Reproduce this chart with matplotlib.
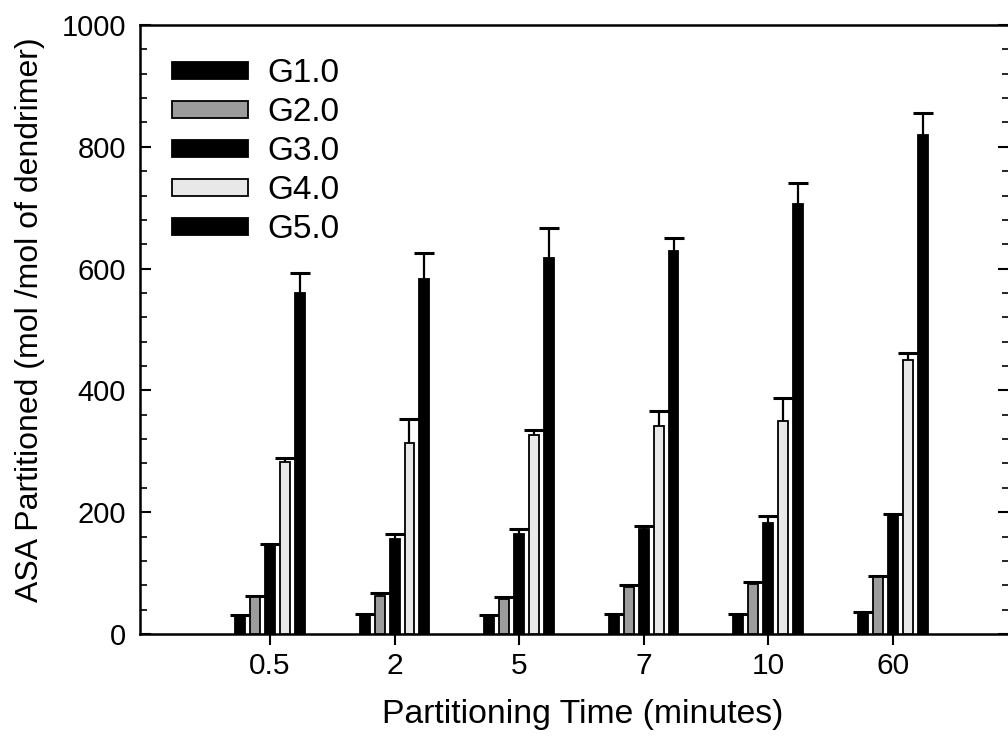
import matplotlib
matplotlib.use("Agg")
import matplotlib.pyplot as plt
import numpy as np
from matplotlib.ticker import MultipleLocator

plt.rcParams['font.family'] = ['Liberation Sans', 'DejaVu Sans']

categories = ["0.5", "2", "5", "7", "10", "60"]
series_names = ["G1.0", "G2.0", "G3.0", "G4.0", "G5.0"]
g1 = [29, 30, 30, 31, 31, 34]
g1_err = [3, 3, 2, 2, 2, 2]
g2 = [60, 62, 58, 77, 82, 93]
g2_err = [3, 5, 3, 3, 4, 3]
g3 = [146, 156, 165, 172, 182, 195]
g3_err = [2, 9, 8, 6, 12, 2]
g4 = [283, 313, 326, 342, 350, 450]
g4_err = [6, 40, 9, 24, 38, 12]
g5 = [560, 583, 617, 629, 706, 820]
g5_err = [32, 42, 50, 21, 34, 35]

values = [g1, g2, g3, g4, g5]
errors = [g1_err, g2_err, g3_err, g4_err, g5_err]
colors = ["black", "#9c9c9c", "black", "#e8e8e8", "black"]

fig = plt.figure(figsize=(10.08, 7.55), dpi=100)
ax = fig.add_axes([140/1008, 1-634/755, 868.5/1008, (634-25)/755])

x = np.arange(len(categories))
width = 0.08
pitch = 0.12
for i, (vals, errs, c, name) in enumerate(zip(values, errors, colors, series_names)):
    off = (i - 2) * pitch
    ax.bar(x + off, vals, width, color=c, edgecolor="black", linewidth=1.3,
           label=name, zorder=3)
    eb = ax.errorbar(x + off, vals, yerr=[np.zeros(len(errs)), errs], fmt="none",
                     ecolor="black", elinewidth=1.6, capsize=7, capthick=2.2, zorder=2)
    caps = eb.lines[1]
    if len(caps) > 1:
        caps[0].set_visible(False)

ax.set_xlim(-1.044, 5.93)
ax.set_ylim(0, 1000)
ax.set_xticks(x)
ax.set_xticklabels(categories)
ax.yaxis.set_major_locator(MultipleLocator(200))
ax.yaxis.set_minor_locator(MultipleLocator(40))
ax.tick_params(axis="x", direction="out", length=8, width=1.5, labelsize=21.5, pad=5)
ax.tick_params(axis="y", which="major", direction="in", length=8, width=1.5,
               labelsize=21, right=True, pad=10)
ax.tick_params(axis="y", which="minor", direction="in", length=5, width=1.2, right=True)
for s in ax.spines.values():
    s.set_linewidth(1.8)

ax.set_xlabel("Partitioning Time (minutes)", fontsize=24.3)
ax.xaxis.set_label_coords((583 - 140) / 868.5, -(714 - 634) / 609, transform=ax.transAxes)
ax.xaxis.label.set_va("center")
ax.set_ylabel("ASA Partitioned (mol /mol of dendrimer)", fontsize=23)
ax.yaxis.set_label_coords(-(140 - 30) / 868.5, (634 - 320) / 609, transform=ax.transAxes)
ax.yaxis.label.set_va("center")

leg = ax.legend(loc="upper left", bbox_to_anchor=(0.0135, 0.978), frameon=False,
                fontsize=24, handlelength=2.3, handleheight=0.42,
                labelspacing=0.24, handletextpad=0.58, borderaxespad=0.2)

fig.savefig("out.png", dpi=100)
